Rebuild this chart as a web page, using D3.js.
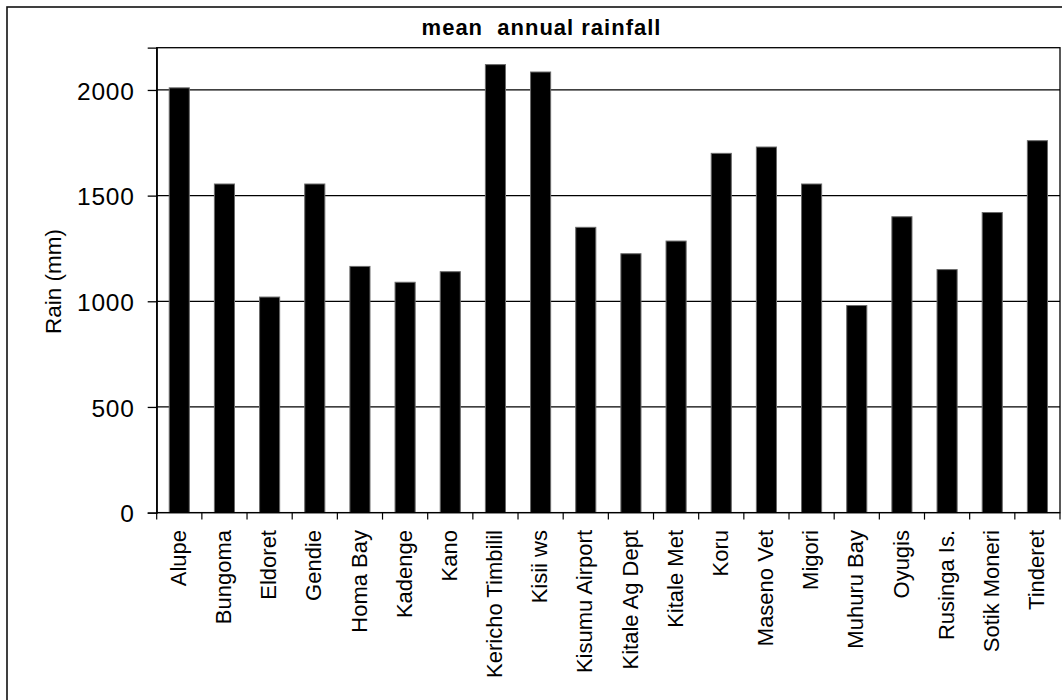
<!DOCTYPE html>
<html>
<head>
<meta charset="utf-8">
<script src="https://cdn.jsdelivr.net/npm/d3@7"></script>
<style>
  html, body { margin: 0; padding: 0; background: #fff; }
  svg { display: block; font-family: "Liberation Sans", Arial, sans-serif; }
  .title { white-space: pre; }
</style>
</head>
<body>
<svg id="chart" width="1062" height="700"></svg>
<script>
// Mean annual rainfall per station (mm)
const stations = [
  "Alupe", "Bungoma", "Eldoret", "Gendie", "Homa Bay", "Kadenge", "Kano",
  "Kericho Timbilil", "Kisii ws", "Kisumu Airport", "Kitale Ag Dept",
  "Kitale Met", "Koru", "Maseno Vet", "Migori", "Muhuru Bay", "Oyugis",
  "Rusinga Is.", "Sotik Moneri", "Tinderet"
];
const rainfall = [
  2010, 1555, 1020, 1555, 1165, 1090, 1140,
  2120, 2085, 1350, 1225,
  1285, 1700, 1730, 1555, 980, 1400,
  1150, 1420, 1760
];
const yTicks = [0, 500, 1000, 1500, 2000];
const yMax = 2200;
const chartTitle = "mean  annual rainfall";
const yTitle = "Rain (mm)";

const svg = d3.select("#chart");

// Outer chart frame (runs past the right and bottom edges)
svg.append("rect")
  .attr("x", 7).attr("y", 7)
  .attr("width", 1080).attr("height", 720)
  .attr("fill", "#fff")
  .attr("stroke", "#111").attr("stroke-width", 1.6);

const plot = { left: 156.7, top: 47.7, right: 1060, bottom: 512.6 };

const x = d3.scaleBand()
  .domain(stations)
  .range([plot.left, plot.right])
  .padding(0);

const y = d3.scaleLinear()
  .domain([0, yMax])
  .range([plot.bottom, plot.top]);

// Plot area border
svg.append("rect")
  .attr("x", plot.left).attr("y", plot.top)
  .attr("width", plot.right - plot.left)
  .attr("height", plot.bottom - plot.top)
  .attr("fill", "none")
  .attr("stroke", "#000").attr("stroke-width", 1.3);

// Horizontal gridlines
svg.append("g")
  .selectAll("line")
  .data(yTicks.filter(d => d > 0))
  .join("line")
  .attr("x1", plot.left).attr("x2", plot.right)
  .attr("y1", d => y(d)).attr("y2", d => y(d))
  .attr("stroke", "#000").attr("stroke-width", 1.3);

// Bars
const barW = x.bandwidth() * 0.445;
svg.append("g")
  .selectAll("rect")
  .data(stations)
  .join("rect")
  .attr("x", (d) => x(d) + (x.bandwidth() - barW) / 2)
  .attr("y", (d, i) => y(rainfall[i]))
  .attr("width", barW)
  .attr("height", (d, i) => y(0) - y(rainfall[i]))
  .attr("fill", "#000")
  .attr("stroke", "#6a6a6a").attr("stroke-width", 1);

// Y axis
const yAxis = svg.append("g")
  .attr("transform", `translate(${plot.left},0)`)
  .call(d3.axisLeft(y).tickValues(yTicks).tickSize(9).tickPadding(13).tickFormat(d3.format("d")));
yAxis.select(".domain").attr("stroke", "#000").attr("stroke-width", 1.3);
yAxis.selectAll(".tick line").attr("stroke", "#000").attr("stroke-width", 1.3);
yAxis.selectAll(".tick text")
  .attr("font-size", 24.5)
  .attr("letter-spacing", "0.8px")
  .attr("fill", "#000")
  .attr("dy", "0.37em");

// X axis: ticks at category boundaries
const bounds = stations.map(s => x(s)).concat([plot.right]);
svg.append("line")
  .attr("x1", plot.left).attr("x2", plot.right)
  .attr("y1", plot.bottom).attr("y2", plot.bottom)
  .attr("stroke", "#000").attr("stroke-width", 1.3);
svg.append("g")
  .selectAll("line")
  .data(bounds)
  .join("line")
  .attr("x1", d => d).attr("x2", d => d)
  .attr("y1", plot.bottom).attr("y2", plot.bottom + 7)
  .attr("stroke", "#000").attr("stroke-width", 1.2);

// Category labels, rotated
svg.append("g")
  .selectAll("text")
  .data(stations)
  .join("text")
  .attr("transform", d => `translate(${x(d) + x.bandwidth() / 2},530) rotate(-90)`)
  .attr("text-anchor", "end")
  .attr("dy", "0.3em")
  .attr("font-size", 22)
  .attr("fill", "#000")
  .text(d => d);

// Axis title
svg.append("text")
  .attr("transform", "translate(61,281.5) rotate(-90)")
  .attr("text-anchor", "middle")
  .attr("font-size", 22.5)
  .attr("fill", "#000")
  .text(yTitle);

// Chart title
svg.append("text")
  .attr("class", "title")
  .attr("x", 541.5).attr("y", 35)
  .attr("text-anchor", "middle")
  .attr("font-size", 22)
  .attr("font-weight", "bold")
  .attr("letter-spacing", "1px")
  .attr("fill", "#000")
  .text(chartTitle);
</script>
</body>
</html>
